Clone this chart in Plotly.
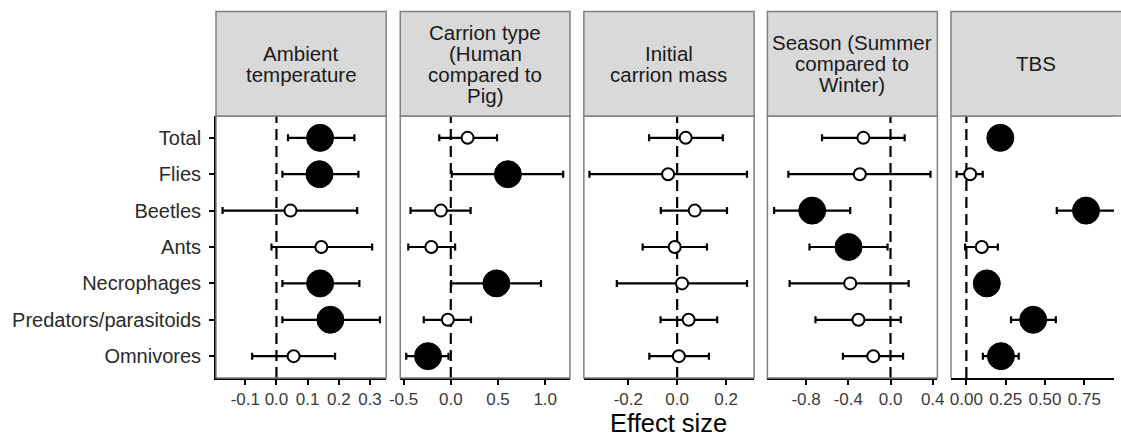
import plotly.graph_objects as go

categories = ["Total", "Flies", "Beetles", "Ants", "Necrophages",
              "Predators/parasitoids", "Omnivores"]

panel_titles = [
    ["Ambient", "temperature"],
    ["Carrion type", "(Human", "compared to", "Pig)"],
    ["Initial", "carrion mass"],
    ["Season (Summer", "compared to", "Winter)"],
    ["TBS"],
]

# Ambient temperature
temp_est = [0.140, 0.138, 0.045, 0.144, 0.140, 0.173, 0.055]
temp_lo = [0.037, 0.019, -0.173, -0.016, 0.019, 0.019, -0.078]
temp_hi = [0.250, 0.263, 0.259, 0.307, 0.266, 0.332, 0.188]

# Carrion type (Human compared to Pig)
type_est = [0.178, 0.605, -0.105, -0.206, 0.483, -0.031, -0.241]
type_lo = [-0.122, 0.010, -0.426, -0.450, 0.004, -0.286, -0.472]
type_hi = [0.490, 1.190, 0.210, 0.046, 0.955, 0.214, -0.024]

# Initial carrion mass
mass_est = [0.035, -0.037, 0.072, -0.010, 0.020, 0.047, 0.007]
mass_lo = [-0.115, -0.359, -0.067, -0.141, -0.247, -0.068, -0.114]
mass_hi = [0.187, 0.286, 0.204, 0.122, 0.286, 0.164, 0.130]

# Season (Summer compared to Winter)
season_est = [-0.257, -0.291, -0.742, -0.398, -0.382, -0.304, -0.163]
season_lo = [-0.649, -0.968, -1.103, -0.768, -0.956, -0.711, -0.451]
season_hi = [0.134, 0.379, -0.382, -0.028, 0.172, 0.097, 0.119]

# TBS
tbs_est = [0.216, 0.024, 0.761, 0.098, 0.130, 0.425, 0.220]
tbs_lo = [0.170, -0.062, 0.575, -0.008, 0.080, 0.284, 0.105]
tbs_hi = [0.260, 0.104, 0.960, 0.200, 0.180, 0.569, 0.333]

x_ticks = [
    [-0.1, 0.0, 0.1, 0.2, 0.3],
    [-0.5, 0.0, 0.5, 1.0],
    [-0.2, 0.0, 0.2],
    [-0.8, -0.4, 0.0, 0.4],
    [0.0, 0.25, 0.5, 0.75],
]
x_ticktext = [
    ["-0.1", "0.0", "0.1", "0.2", "0.3"],
    ["-0.5", "0.0", "0.5", "1.0"],
    ["-0.2", "0.0", "0.2"],
    ["-0.8", "-0.4", "0.0", "0.4"],
    ["0.00", "0.25", "0.50", "0.75"],
]

panels = [
    (temp_est, temp_lo, temp_hi),
    (type_est, type_lo, type_hi),
    (mass_est, mass_lo, mass_hi),
    (season_est, season_lo, season_hi),
    (tbs_est, tbs_lo, tbs_hi),
]

# ---- layout geometry (pixels) ----
W, H = 1121, 437
ML, MR, MT, MB = 216, 0, 116, 59
PW = W - ML - MR
PH = H - MT - MB
panel_px = [(216, 387.5), (401.7, 572.7), (586.7, 758.3), (771.7, 943.0), (956.7, 1121)]
x_ranges = [(-0.194, 0.352), (-0.535, 1.262), (-0.382, 0.315), (-1.1665, 0.444), (-0.098, 0.939)]
strip_top_px = 11.5
strip_line_gap = 21


def px2fx(px):
    return (px - ML) / PW


def py2fy(py):
    return (H - MB - py) / PH


FONT = "Liberation Sans"
BORDER = "#808080"

fig = go.Figure()
shapes = []
annotations = []

for i, (est, lo, hi) in enumerate(panels):
    xa = "x" if i == 0 else f"x{i+1}"
    ya = "y" if i == 0 else f"y{i+1}"
    filled = [(l > 0) or (h < 0) for l, h in zip(lo, hi)]
    plus = [h - e for e, h in zip(est, hi)]
    minus = [e - l for e, l in zip(est, lo)]
    for flag in (False, True):
        idx = [k for k in range(len(categories)) if filled[k] == flag]
        if not idx:
            continue
        fig.add_trace(go.Scatter(
            x=[est[k] for k in idx],
            y=[categories[k] for k in idx],
            xaxis=xa, yaxis=ya,
            mode="markers",
            marker=dict(
                size=27 if flag else 12,
                color="black" if flag else "white",
                line=dict(color="black", width=1 if flag else 2),
            ),
            error_x=dict(
                type="data", symmetric=False,
                array=[plus[k] for k in idx],
                arrayminus=[minus[k] for k in idx],
                color="black", thickness=2.2, width=3.5,
            ),
            showlegend=False, hoverinfo="skip",
            cliponaxis=True,
        ))

    d0, d1 = px2fx(panel_px[i][0]), px2fx(panel_px[i][1])
    axis_x = dict(
        domain=[max(0, d0), min(1, d1)], range=list(x_ranges[i]),
        anchor=ya, showgrid=False, zeroline=False,
        showline=True, linecolor="black", linewidth=1.8,
        ticks="outside", ticklen=5, tickwidth=1.6, tickcolor="black",
        tickvals=x_ticks[i], ticktext=x_ticktext[i],
        tickfont=dict(family=FONT, size=17, color="#3a3a3a"),
    )
    fig.update_layout(**{("xaxis" if i == 0 else f"xaxis{i+1}"): axis_x})

    axis_y = dict(
        domain=[0, 1], anchor=xa, type="category",
        categoryorder="array", categoryarray=categories[::-1],
        range=[-0.6, 6.6], showgrid=False, zeroline=False,
    )
    if i == 0:
        axis_y.update(showline=True, linecolor="black", linewidth=1.8,
                      ticks="outside", ticklen=5, tickwidth=1.6, tickcolor="black",
                      tickfont=dict(family=FONT, size=20, color="#2a2a2a"),
                      ticklabelstandoff=4)
    else:
        axis_y.update(matches="y", showline=False, showticklabels=False, ticks="")
    fig.update_layout(**{("yaxis" if i == 0 else f"yaxis{i+1}"): axis_y})

    # dashed zero line
    shapes.append(dict(type="line", xref=xa, yref=f"{ya} domain",
                       x0=0, x1=0, y0=0, y1=1, layer="below",
                       line=dict(color="black", width=2.2, dash="11px,6px")))

    # panel border (grey)
    x0p, x1p = d0, min(1, d1)
    if i < 4:
        shapes.append(dict(type="rect", xref="paper", yref="paper",
                           x0=x0p, x1=x1p, y0=0, y1=1,
                           line=dict(color=BORDER, width=1.5), layer="above"))
    else:
        shapes.append(dict(type="line", xref="paper", yref="paper",
                           x0=x0p, x1=x0p, y0=0, y1=1,
                           line=dict(color=BORDER, width=1.5)))
        shapes.append(dict(type="line", xref="paper", yref="paper",
                           x0=x0p, x1=1, y0=1, y1=1,
                           line=dict(color=BORDER, width=1.5)))

    # strip
    st = py2fy(strip_top_px)
    shapes.append(dict(type="rect", xref="paper", yref="paper",
                       x0=x0p, x1=(x1p if i < 4 else 1.01), y0=1, y1=st,
                       fillcolor="#d9d9d9", line=dict(color=BORDER, width=1.5),
                       layer="above"))
    lines = panel_titles[i]
    cy = (strip_top_px + MT) / 2
    n = len(lines)
    cx_px = (panel_px[i][0] + (panel_px[i][0] + 171.5 if i == 4 else panel_px[i][1])) / 2
    for j, txt in enumerate(lines):
        ypx = cy + (j - (n - 1) / 2) * strip_line_gap
        annotations.append(dict(
            text=txt, xref="paper", yref="paper",
            x=px2fx(cx_px), y=py2fy(ypx),
            xanchor="center", yanchor="middle", showarrow=False,
            font=dict(family=FONT, size=20.5, color="#1a1a1a"),
        ))

annotations.append(dict(
    text="Effect size", xref="paper", yref="paper",
    x=px2fx(672), y=py2fy(423), xanchor="center", yanchor="middle",
    showarrow=False, font=dict(family=FONT, size=25.5, color="black"),
))

fig.update_layout(
    width=W, height=H,
    margin=dict(l=ML, r=MR, t=MT, b=MB, pad=0),
    paper_bgcolor="white", plot_bgcolor="white",
    shapes=shapes, annotations=annotations,
    font=dict(family=FONT),
)

fig.write_html("out.html")
